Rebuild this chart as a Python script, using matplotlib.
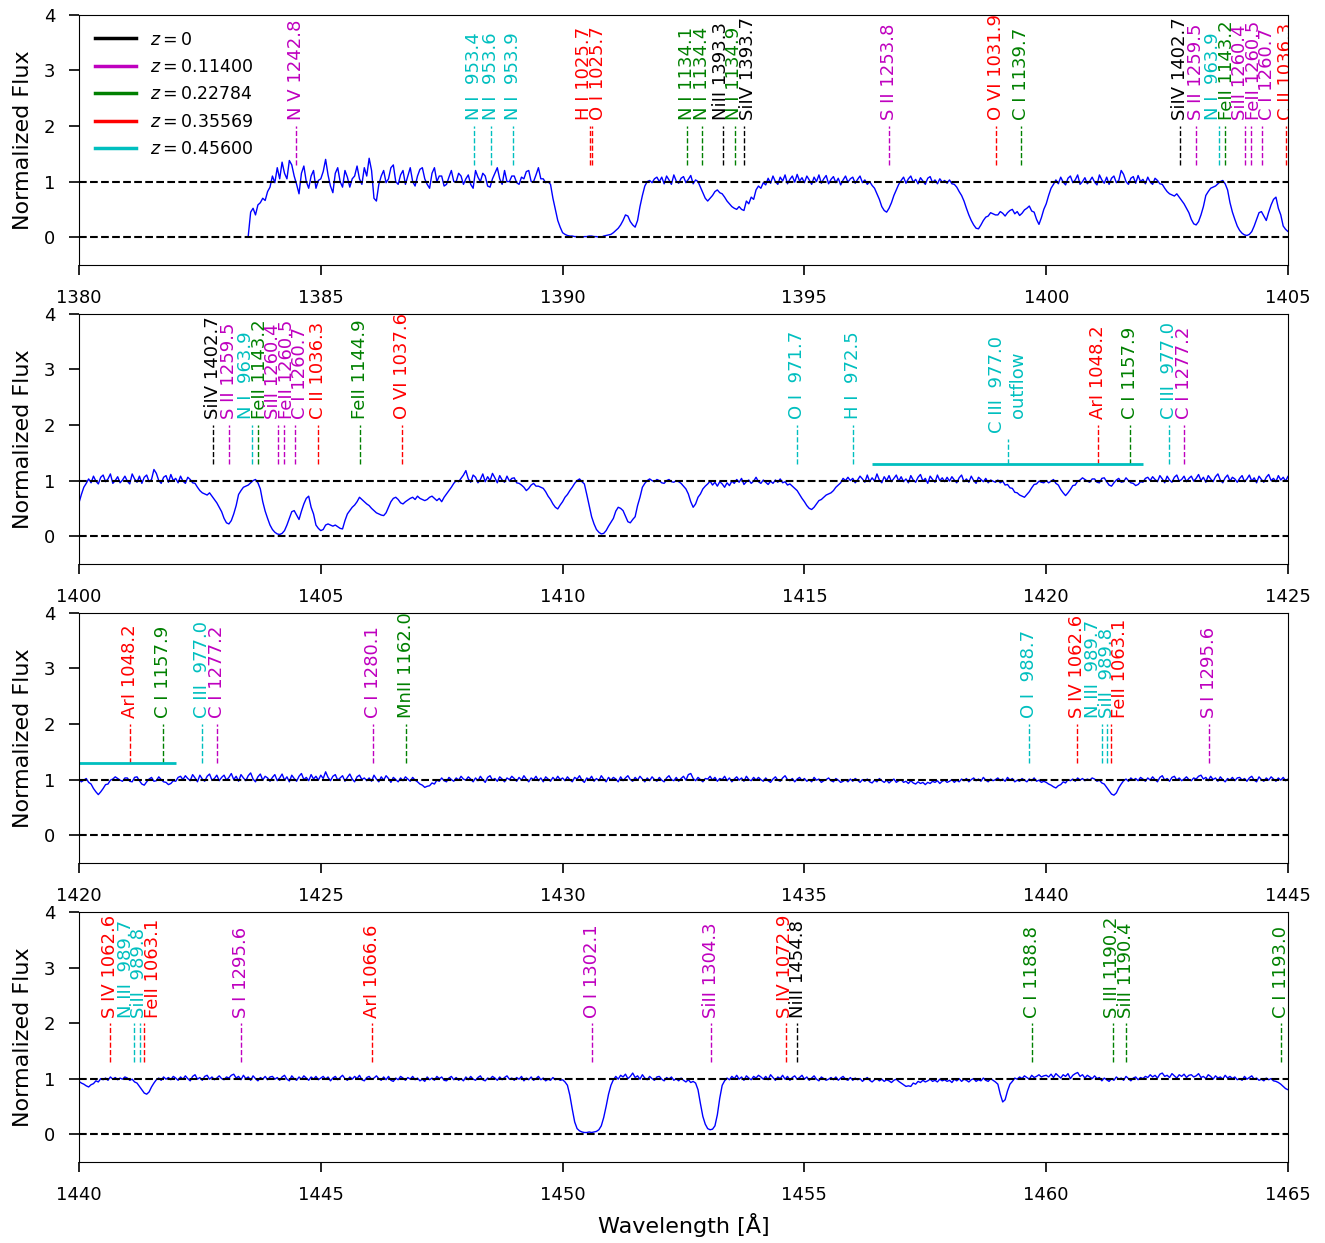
import numpy as np
import matplotlib
matplotlib.use("Agg")
import matplotlib.pyplot as plt

# absorber redshifts and the colour used for each system
redshifts = [0.0, 0.11400, 0.22784, 0.35569, 0.45600]
z_colors = ["k", "m", "g", "r", "c"]

# (ion, rest wavelength) for each absorber
lines_z0 = [("NiII", 1393.324), ("SiIV", 1393.755), ("SiIV", 1402.770),
            ("NiII", 1454.842)]
lines_z1 = [("N V", 1242.804), ("S II", 1253.811), ("S II", 1259.519),
            ("SiII", 1260.422), ("FeII", 1260.533), ("C I", 1260.736),
            ("C I", 1277.245), ("C I", 1280.135), ("S I", 1295.653),
            ("O I", 1302.168), ("SiII", 1304.370)]
lines_z2 = [("N I", 1134.165), ("N I", 1134.415), ("N I", 1134.980),
            ("C I", 1139.793), ("FeII", 1143.226), ("FeII", 1144.938),
            ("C I", 1157.910), ("MnII", 1162.015), ("C I", 1188.833),
            ("S III", 1190.203), ("SiII", 1190.416), ("C I", 1193.031)]
lines_z3 = [("H I", 1025.722), ("O I", 1025.762), ("O VI", 1031.926),
            ("C II", 1036.337), ("O VI", 1037.617), ("ArI", 1048.220),
            ("S IV", 1062.664), ("FeII", 1063.176), ("ArI", 1066.660),
            ("S IV", 1072.973)]
lines_z4 = [("N I", 953.415), ("N I", 953.655), ("N I", 953.970),
            ("N I", 963.990), ("O I", 971.738), ("H I", 972.537),
            ("C III", 977.020), ("O I", 988.773), ("N III", 989.799),
            ("SiII", 989.873)]
line_lists = [lines_z0, lines_z1, lines_z2, lines_z3, lines_z4]

# C III outflow trough (observed wavelengths)
outflow_ion = ("C III", 977.020)
outflow_lo, outflow_mid, outflow_hi = 1416.4, 1419.2, 1422.0

# normalized flux in percent, 0.05 A bins, one row per angstrom
nan = np.nan
flux_1380 = [  # rows from 1383 A
    [nan] * 10 + [2, 45, 52, 40, 58, 62, 70, 66, 82, 90],
    [110, 98, 125, 105, 135, 115, 105, 138, 130, 110, 95, 78, 115, 128, 100, 88, 110, 120, 88, 102],
    [105, 118, 140, 112, 92, 80, 115, 125, 100, 90, 120, 108, 90, 105, 110, 128, 105, 95, 125, 110],
    [142, 120, 70, 65, 95, 110, 120, 98, 105, 125, 130, 100, 95, 112, 120, 95, 110, 125, 100, 92],
    [110, 122, 125, 105, 95, 88, 115, 125, 100, 110, 110, 92, 95, 108, 120, 100, 100, 115, 110, 95],
    [105, 112, 95, 88, 120, 108, 100, 115, 110, 92, 90, 105, 115, 125, 105, 95, 120, 100, 100, 110],
    [110, 98, 95, 108, 105, 118, 120, 100, 100, 112, 125, 105, 105, 98, 100, 95, 70, 50, 30, 18],
    [8, 5, 3, 2, 2, 1, 1, 0, 0, 1, 1, 2, 2, 1, 1, 0, 0, 2, 3, 4],
    [5, 8, 12, 16, 22, 30, 40, 38, 28, 22, 18, 30, 55, 75, 92, 100, 102, 98, 105, 108],
    [100, 108, 96, 110, 103, 95, 112, 101, 97, 106, 109, 98, 104, 111, 96, 103, 100, 90, 80, 70],
    [65, 70, 75, 82, 85, 80, 78, 72, 65, 60, 55, 52, 50, 55, 50, 48, 65, 60, 72, 68],
    [85, 92, 88, 98, 94, 106, 97, 110, 100, 95, 108, 101, 112, 96, 104, 110, 99, 113, 101, 107],
    [98, 110, 103, 95, 108, 100, 112, 97, 105, 111, 96, 104, 109, 98, 106, 94, 103, 110, 99, 105],
    [108, 97, 104, 110, 98, 103, 95, 100, 93, 88, 78, 68, 55, 48, 45, 52, 62, 75, 85, 95],
    [102, 108, 97, 105, 110, 99, 104, 96, 107, 101, 95, 106, 109, 98, 103, 96, 105, 99, 102, 97],
    [103, 96, 95, 90, 82, 75, 65, 52, 40, 30, 22, 16, 15, 22, 30, 36, 38, 44, 42, 40],
    [40, 46, 43, 38, 44, 48, 50, 42, 46, 39, 43, 49, 52, 56, 47, 45, 32, 23, 35, 50],
]
flux_1400 = [  # rows from 1400 A
    [60, 75, 88, 95, 103, 96, 108, 99, 94, 106, 110, 98, 103, 112, 95, 100, 107, 96, 101, 108],
    [99, 94, 112, 103, 97, 108, 95, 106, 110, 98, 102, 120, 113, 100, 95, 106, 109, 97, 111, 100],
    [104, 96, 108, 99, 95, 106, 102, 96, 95, 88, 82, 78, 76, 74, 78, 72, 66, 60, 52, 44],
    [32, 24, 22, 28, 40, 55, 75, 82, 88, 90, 92, 96, 100, 102, 96, 85, 62, 45, 32, 20],
    [12, 7, 4, 3, 5, 10, 20, 32, 44, 46, 38, 30, 45, 58, 68, 72, 52, 40, 20, 14],
    [10, 12, 20, 22, 20, 18, 20, 17, 14, 13, 28, 40, 46, 52, 56, 62, 70, 66, 62, 58],
    [55, 50, 46, 42, 40, 38, 37, 42, 52, 62, 68, 70, 66, 60, 58, 62, 65, 68, 70, 66],
    [72, 68, 66, 64, 66, 70, 72, 68, 64, 68, 62, 70, 76, 82, 88, 95, 100, 98, 104, 110],
    [118, 103, 97, 110, 106, 96, 102, 112, 98, 107, 100, 113, 105, 96, 109, 101, 97, 108, 99, 104],
    [105, 96, 95, 92, 88, 82, 86, 92, 95, 90, 90, 88, 86, 80, 72, 66, 58, 52, 49, 56],
    [62, 70, 75, 82, 88, 95, 100, 103, 98, 94, 75, 55, 35, 22, 12, 7, 4, 5, 10, 18],
    [25, 32, 45, 52, 50, 46, 36, 26, 24, 30, 35, 55, 70, 88, 95, 100, 103, 100, 98, 102],
    [100, 96, 95, 100, 102, 98, 97, 100, 98, 95, 90, 85, 76, 62, 52, 58, 70, 76, 85, 90],
    [94, 99, 92, 97, 90, 98, 94, 88, 96, 91, 99, 95, 102, 97, 104, 93, 98, 101, 95, 99],
    [106, 98, 95, 101, 97, 93, 99, 95, 101, 97, 103, 96, 98, 92, 94, 90, 86, 82, 75, 68],
    [62, 55, 50, 48, 52, 58, 64, 66, 70, 74, 76, 78, 82, 88, 92, 96, 104, 100, 106, 100],
    [104, 96, 101, 108, 103, 97, 110, 98, 105, 99, 112, 101, 96, 107, 100, 109, 98, 104, 110, 99],
    [107, 98, 103, 96, 109, 101, 97, 106, 111, 99, 104, 95, 108, 102, 97, 110, 100, 105, 98, 106],
    [99, 107, 101, 96, 105, 110, 98, 103, 97, 108, 100, 95, 106, 102, 98, 104, 96, 101, 99, 97],
    [101, 96, 99, 92, 93, 87, 86, 79, 78, 74, 72, 70, 75, 80, 87, 93, 94, 99, 97, 96],
]
flux_1420 = [  # rows from 1420 A
    [100, 96, 99, 102, 95, 92, 84, 78, 73, 78, 84, 91, 92, 99, 101, 105, 102, 99, 97, 103],
    [103, 97, 96, 104, 105, 98, 92, 90, 96, 101, 104, 97, 98, 105, 100, 96, 95, 91, 93, 98],
    [97, 104, 106, 100, 107, 102, 98, 109, 103, 96, 108, 101, 97, 106, 110, 99, 102, 108, 98, 104],
    [108, 99, 104, 111, 100, 106, 97, 109, 103, 98, 107, 112, 101, 96, 105, 110, 99, 106, 103, 97],
    [104, 109, 98, 103, 110, 99, 105, 96, 108, 102, 97, 106, 111, 100, 104, 98, 109, 101, 106, 99],
    [108, 102, 114, 104, 98, 106, 109, 99, 103, 107, 97, 104, 110, 101, 96, 105, 108, 100, 103, 98],
    [103, 97, 108, 101, 96, 105, 99, 107, 102, 95, 104, 100, 96, 103, 98, 105, 101, 97, 104, 99],
    [96, 92, 90, 86, 88, 89, 94, 92, 99, 97, 103, 98, 96, 104, 100, 97, 103, 99, 106, 101],
    [99, 105, 101, 96, 103, 98, 106, 100, 95, 104, 107, 99, 102, 97, 105, 101, 96, 103, 100, 106],
    [102, 97, 104, 99, 107, 101, 96, 103, 100, 106, 98, 103, 96, 105, 101, 97, 104, 99, 106, 100],
    [103, 98, 105, 100, 96, 104, 101, 107, 99, 95, 103, 100, 106, 97, 102, 98, 107, 101, 96, 104],
    [99, 104, 101, 96, 105, 98, 103, 107, 100, 97, 104, 99, 106, 101, 96, 103, 98, 105, 100, 97],
    [104, 99, 96, 103, 107, 100, 98, 104, 97, 102, 106, 99, 109, 111, 102, 98, 104, 100, 96, 102],
    [101, 106, 99, 104, 97, 102, 100, 106, 98, 103, 96, 101, 105, 99, 103, 97, 106, 100, 98, 104],
    [99, 104, 100, 97, 103, 98, 95, 101, 105, 99, 97, 103, 107, 100, 98, 102, 96, 101, 104, 98],
    [102, 97, 100, 96, 104, 99, 101, 95, 98, 100, 103, 98, 96, 102, 99, 95, 97, 100, 96, 101],
    [97, 102, 99, 95, 100, 97, 101, 96, 94, 99, 96, 102, 98, 95, 99, 94, 98, 101, 95, 98],
    [100, 95, 97, 93, 98, 94, 92, 96, 93, 95, 91, 95, 93, 97, 95, 98, 93, 97, 99, 95],
    [97, 100, 95, 99, 96, 101, 98, 102, 96, 100, 103, 98, 101, 97, 104, 99, 96, 101, 98, 100],
    [103, 98, 101, 97, 104, 99, 102, 96, 99, 97, 102, 99, 96, 101, 98, 103, 97, 99, 95, 97],
]
flux_1440 = [  # rows from 1440 A
    [95, 92, 90, 87, 85, 89, 91, 96, 94, 100, 98, 101, 97, 103, 99, 102, 98, 101, 99, 103],
    [101, 97, 99, 94, 92, 86, 80, 74, 72, 76, 85, 92, 98, 101, 97, 103, 99, 102, 98, 104],
    [101, 97, 103, 99, 105, 100, 96, 104, 107, 99, 102, 97, 104, 106, 99, 103, 98, 101, 105, 100],
    [98, 103, 101, 106, 108, 101, 104, 98, 106, 100, 103, 97, 105, 100, 96, 102, 99, 104, 98, 103],
    [104, 99, 102, 97, 103, 106, 99, 96, 105, 100, 97, 103, 99, 105, 101, 97, 103, 99, 104, 98],
    [101, 104, 99, 103, 96, 101, 104, 98, 102, 106, 100, 97, 103, 99, 104, 100, 106, 98, 96, 102],
    [104, 99, 101, 105, 100, 97, 103, 98, 104, 97, 95, 101, 98, 104, 101, 97, 102, 99, 104, 98],
    [101, 96, 99, 95, 103, 98, 101, 97, 104, 100, 103, 97, 96, 101, 104, 98, 102, 97, 100, 96],
    [103, 98, 104, 99, 97, 102, 105, 98, 96, 101, 99, 104, 101, 97, 103, 98, 102, 105, 99, 101],
    [97, 102, 99, 104, 96, 101, 98, 103, 97, 100, 104, 98, 101, 96, 99, 97, 102, 98, 100, 97],
    [98, 94, 88, 70, 45, 22, 10, 6, 4, 3, 3, 4, 3, 4, 5, 8, 15, 30, 50, 72],
    [88, 98, 104, 99, 106, 103, 108, 100, 104, 110, 102, 105, 99, 107, 101, 98, 104, 100, 97, 103],
    [104, 99, 96, 102, 99, 103, 97, 100, 96, 101, 97, 94, 98, 93, 95, 92, 80, 55, 32, 18],
    [10, 8, 9, 15, 35, 65, 88, 96, 101, 98, 104, 100, 106, 99, 103, 97, 105, 101, 98, 104],
    [101, 106, 103, 99, 104, 98, 107, 102, 97, 103, 100, 106, 99, 104, 97, 102, 105, 99, 102, 106],
    [99, 103, 97, 101, 105, 99, 96, 103, 100, 97, 99, 102, 98, 103, 97, 101, 104, 99, 97, 102],
    [97, 101, 98, 100, 95, 99, 102, 97, 94, 98, 100, 96, 99, 95, 98, 96, 93, 97, 99, 95],
    [92, 89, 86, 87, 86, 92, 90, 95, 93, 97, 94, 96, 99, 95, 97, 94, 99, 96, 98, 95],
    [97, 93, 99, 96, 100, 95, 99, 97, 94, 98, 100, 95, 98, 96, 101, 97, 95, 100, 97, 94],
    [90, 72, 58, 62, 78, 90, 95, 101, 99, 103, 100, 105, 102, 99, 106, 102, 104, 107, 103, 105],
    [106, 103, 108, 102, 109, 105, 101, 107, 104, 109, 100, 106, 109, 111, 104, 107, 101, 106, 103, 100],
    [105, 100, 102, 96, 101, 98, 95, 100, 97, 103, 99, 101, 97, 104, 100, 96, 101, 103, 98, 102],
    [100, 104, 102, 107, 103, 106, 101, 108, 110, 104, 106, 102, 109, 105, 101, 107, 104, 108, 102, 106],
    [107, 103, 105, 109, 102, 104, 100, 107, 104, 99, 105, 101, 103, 99, 106, 101, 104, 100, 103, 98],
    [100, 97, 104, 99, 102, 105, 99, 101, 97, 99, 96, 101, 98, 100, 96, 95, 93, 90, 86, 82],
    [80],
]

panel_ranges = [(1380, 1405), (1400, 1425), (1420, 1445), (1440, 1465)]
fs = 13


def stitch(start, rows):
    # one row per angstrom, 0.05 A steps inside a row
    w = np.concatenate([start + k + 0.05 * np.arange(len(r))
                        for k, r in enumerate(rows)])
    f = np.concatenate([np.array(r, dtype=float) for r in rows]) / 100.0
    return w, f


def line_label(ion, rest):
    # rest wavelength cut to one decimal
    return "%s %6.1f" % (ion, np.floor(rest * 10) / 10)


parts = [stitch(1383, flux_1380), stitch(1400, flux_1400),
         stitch(1420, flux_1420), stitch(1440, flux_1440)]
wave = np.concatenate([p[0] for p in parts])
flux = np.concatenate([p[1] for p in parts])

# observed position of every line, sorted along wavelength
ids = []
for z, c, lines in zip(redshifts, z_colors, line_lists):
    for ion, rest in lines:
        ids.append((rest * (1 + z), line_label(ion, rest), c))
ids.sort(key=lambda t: t[0])

# push crowded labels apart so they do not sit on top of each other
sep = 0.28
text_x = [t[0] for t in ids]
for it in range(500):
    moved = False
    for i in range(len(text_x) - 1):
        gap = text_x[i + 1] - text_x[i]
        if gap < sep - 1e-6:
            d = (sep - gap) / 2
            text_x[i] -= d
            text_x[i + 1] += d
            moved = True
    if not moved:
        break

fig, axes = plt.subplots(4, 1, figsize=(13.25, 12.43), dpi=100)
fig.subplots_adjust(left=0.0596, right=0.9721, top=0.988, bottom=0.0652,
                    hspace=0.196)

for ax, (lo, hi) in zip(axes, panel_ranges):
    ax.plot(wave, flux, color="b", lw=1)
    ax.axhline(0, color="k", ls="--", lw=1.5)
    ax.axhline(1, color="k", ls="--", lw=1.5)

    # line identifications that fall inside this panel
    for (x, lab, c), tx in zip(ids, text_x):
        if not (lo - 0.2 < tx < hi + 0.2):
            continue
        ax.vlines(x, 1.3, 2.0, colors=c, linestyles="--", lw=1)
        ax.text(tx, 2.1, lab, rotation=90, color=c, ha="center",
                va="bottom", fontsize=fs, clip_on=True)

    # outflow trough of C III
    if outflow_lo < hi and outflow_hi > lo:
        ax.hlines(1.3, outflow_lo, outflow_hi, colors="c", lw=2)
    if lo < outflow_mid < hi:
        ax.vlines(outflow_mid, 1.3, 1.75, colors="c", linestyles="--", lw=1)
        ax.text(outflow_mid, 1.85, line_label(*outflow_ion) + "\noutflow",
                rotation=90, color="c", ha="center", va="bottom",
                fontsize=fs, clip_on=True)

    ax.set_xlim(lo, hi)
    ax.set_ylim(-0.5, 4)
    ax.set_xticks(np.arange(lo, hi + 1, 5))
    ax.set_yticks([0, 1, 2, 3, 4])
    ax.tick_params(direction="out", length=7, width=1.2, labelsize=fs, pad=10)
    ax.set_ylabel("Normalized Flux", fontsize=16, labelpad=8)

# legend for the redshift systems
for z, c in zip(redshifts, z_colors):
    lab = "$z = 0$" if z == 0 else "$z = %.5f$" % z
    axes[0].plot([], [], color=c, lw=2.5, label=lab)
axes[0].legend(loc="upper left", frameon=False, fontsize=12.5,
               handlelength=2.4, labelspacing=0.54)

axes[-1].set_xlabel("Wavelength [\u00c5]", fontsize=16, labelpad=7)

plt.savefig("out.png", dpi=100)
